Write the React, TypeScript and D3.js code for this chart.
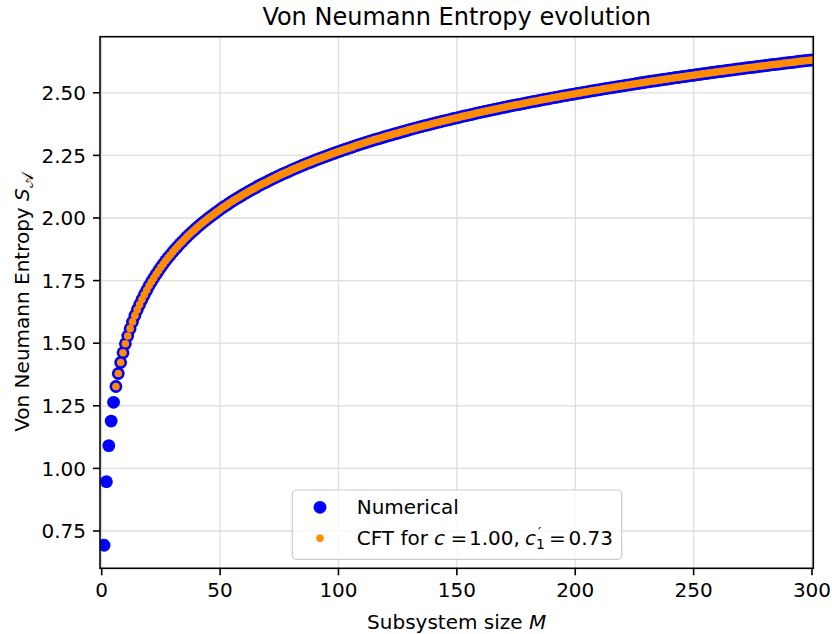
import React from "react";
import * as d3 from "d3";

// Numerical entanglement entropy S_A for subsystem sizes M = 1..300
const numericalStartM = 1;
const numericalEntropy = [
  0.693, 0.947, 1.091, 1.189, 1.264, 1.327, 1.379, 1.423, 1.462, 1.498,
  1.529, 1.558, 1.585, 1.610, 1.633, 1.654, 1.674, 1.693, 1.711, 1.729,
  1.745, 1.760, 1.775, 1.789, 1.803, 1.816, 1.829, 1.841, 1.852, 1.864,
  1.875, 1.885, 1.896, 1.905, 1.915, 1.925, 1.934, 1.943, 1.951, 1.960,
  1.968, 1.976, 1.984, 1.991, 1.999, 2.006, 2.013, 2.020, 2.027, 2.034,
  2.041, 2.047, 2.053, 2.060, 2.066, 2.072, 2.078, 2.083, 2.089, 2.095,
  2.100, 2.106, 2.111, 2.116, 2.121, 2.127, 2.132, 2.137, 2.141, 2.146,
  2.151, 2.156, 2.160, 2.165, 2.169, 2.174, 2.178, 2.182, 2.186, 2.191,
  2.195, 2.199, 2.203, 2.207, 2.211, 2.215, 2.219, 2.222, 2.226, 2.230,
  2.234, 2.237, 2.241, 2.244, 2.248, 2.251, 2.255, 2.258, 2.262, 2.265,
  2.268, 2.272, 2.275, 2.278, 2.281, 2.284, 2.288, 2.291, 2.294, 2.297,
  2.300, 2.303, 2.306, 2.309, 2.312, 2.315, 2.317, 2.320, 2.323, 2.326,
  2.329, 2.331, 2.334, 2.337, 2.339, 2.342, 2.345, 2.347, 2.350, 2.353,
  2.355, 2.358, 2.360, 2.363, 2.365, 2.368, 2.370, 2.372, 2.375, 2.377,
  2.380, 2.382, 2.384, 2.387, 2.389, 2.391, 2.393, 2.396, 2.398, 2.400,
  2.402, 2.405, 2.407, 2.409, 2.411, 2.413, 2.415, 2.418, 2.420, 2.422,
  2.424, 2.426, 2.428, 2.430, 2.432, 2.434, 2.436, 2.438, 2.440, 2.442,
  2.444, 2.446, 2.448, 2.450, 2.452, 2.453, 2.455, 2.457, 2.459, 2.461,
  2.463, 2.465, 2.466, 2.468, 2.470, 2.472, 2.474, 2.475, 2.477, 2.479,
  2.481, 2.482, 2.484, 2.486, 2.488, 2.489, 2.491, 2.493, 2.494, 2.496,
  2.498, 2.499, 2.501, 2.503, 2.504, 2.506, 2.508, 2.509, 2.511, 2.512,
  2.514, 2.516, 2.517, 2.519, 2.520, 2.522, 2.523, 2.525, 2.526, 2.528,
  2.529, 2.531, 2.532, 2.534, 2.535, 2.537, 2.538, 2.540, 2.541, 2.543,
  2.544, 2.546, 2.547, 2.548, 2.550, 2.551, 2.553, 2.554, 2.555, 2.557,
  2.558, 2.560, 2.561, 2.562, 2.564, 2.565, 2.566, 2.568, 2.569, 2.570,
  2.572, 2.573, 2.574, 2.576, 2.577, 2.578, 2.580, 2.581, 2.582, 2.584,
  2.585, 2.586, 2.587, 2.589, 2.590, 2.591, 2.592, 2.594, 2.595, 2.596,
  2.597, 2.599, 2.600, 2.601, 2.602, 2.603, 2.605, 2.606, 2.607, 2.608,
  2.609, 2.611, 2.612, 2.613, 2.614, 2.615, 2.616, 2.618, 2.619, 2.620,
  2.621, 2.622, 2.623, 2.625, 2.626, 2.627, 2.628, 2.629, 2.630, 2.631,
];

// CFT prediction for M = 6..300
const cftStartM = 6;
const cftEntropy = [
  1.327, 1.379, 1.423, 1.462, 1.498,
  1.529, 1.558, 1.585, 1.610, 1.633, 1.654, 1.674, 1.693, 1.711, 1.729,
  1.745, 1.760, 1.775, 1.789, 1.803, 1.816, 1.829, 1.841, 1.852, 1.864,
  1.875, 1.885, 1.896, 1.905, 1.915, 1.925, 1.934, 1.943, 1.951, 1.960,
  1.968, 1.976, 1.984, 1.991, 1.999, 2.006, 2.013, 2.020, 2.027, 2.034,
  2.041, 2.047, 2.053, 2.060, 2.066, 2.072, 2.078, 2.083, 2.089, 2.095,
  2.100, 2.106, 2.111, 2.116, 2.121, 2.127, 2.132, 2.137, 2.141, 2.146,
  2.151, 2.156, 2.160, 2.165, 2.169, 2.174, 2.178, 2.182, 2.186, 2.191,
  2.195, 2.199, 2.203, 2.207, 2.211, 2.215, 2.219, 2.222, 2.226, 2.230,
  2.234, 2.237, 2.241, 2.244, 2.248, 2.251, 2.255, 2.258, 2.262, 2.265,
  2.268, 2.272, 2.275, 2.278, 2.281, 2.284, 2.288, 2.291, 2.294, 2.297,
  2.300, 2.303, 2.306, 2.309, 2.312, 2.315, 2.317, 2.320, 2.323, 2.326,
  2.329, 2.331, 2.334, 2.337, 2.339, 2.342, 2.345, 2.347, 2.350, 2.353,
  2.355, 2.358, 2.360, 2.363, 2.365, 2.368, 2.370, 2.372, 2.375, 2.377,
  2.380, 2.382, 2.384, 2.387, 2.389, 2.391, 2.393, 2.396, 2.398, 2.400,
  2.402, 2.405, 2.407, 2.409, 2.411, 2.413, 2.415, 2.418, 2.420, 2.422,
  2.424, 2.426, 2.428, 2.430, 2.432, 2.434, 2.436, 2.438, 2.440, 2.442,
  2.444, 2.446, 2.448, 2.450, 2.452, 2.453, 2.455, 2.457, 2.459, 2.461,
  2.463, 2.465, 2.466, 2.468, 2.470, 2.472, 2.474, 2.475, 2.477, 2.479,
  2.481, 2.482, 2.484, 2.486, 2.488, 2.489, 2.491, 2.493, 2.494, 2.496,
  2.498, 2.499, 2.501, 2.503, 2.504, 2.506, 2.508, 2.509, 2.511, 2.512,
  2.514, 2.516, 2.517, 2.519, 2.520, 2.522, 2.523, 2.525, 2.526, 2.528,
  2.529, 2.531, 2.532, 2.534, 2.535, 2.537, 2.538, 2.540, 2.541, 2.543,
  2.544, 2.546, 2.547, 2.548, 2.550, 2.551, 2.553, 2.554, 2.555, 2.557,
  2.558, 2.560, 2.561, 2.562, 2.564, 2.565, 2.566, 2.568, 2.569, 2.570,
  2.572, 2.573, 2.574, 2.576, 2.577, 2.578, 2.580, 2.581, 2.582, 2.584,
  2.585, 2.586, 2.587, 2.589, 2.590, 2.591, 2.592, 2.594, 2.595, 2.596,
  2.597, 2.599, 2.600, 2.601, 2.602, 2.603, 2.605, 2.606, 2.607, 2.608,
  2.609, 2.611, 2.612, 2.613, 2.614, 2.615, 2.616, 2.618, 2.619, 2.620,
  2.621, 2.622, 2.623, 2.625, 2.626, 2.627, 2.628, 2.629, 2.630, 2.631,
];

const xTicks = [0, 50, 100, 150, 200, 250, 300];
const yTicks = [0.75, 1.0, 1.25, 1.5, 1.75, 2.0, 2.25, 2.5];
const xDomain = [-0.72, 300.55];
const yDomain = [0.601, 2.724];

const FONT = "DejaVu Sans, Verdana, sans-serif";

export default function App() {
  const W = 832;
  const H = 634;
  const left = 100;
  const right = 813.3;
  const top = 36.7;
  const bottom = 568.3;

  const x = d3.scaleLinear().domain(xDomain).range([left, right]);
  const y = d3.scaleLinear().domain(yDomain).range([bottom, top]);
  const fmtY = d3.format(".2f");

  const blue = "#0000ff";
  const orange = "#ff8c00";
  const fs = 20;
  const tickLen = 7;
  const lw = 1.6;

  return (
    <svg
      width={W}
      height={H}
      viewBox={`0 0 ${W} ${H}`}
      style={{ position: "absolute", left: 0, top: 0, display: "block", background: "#fff" }}
      fontFamily={FONT}
    >
      <defs>
        <clipPath id="plotClip">
          <rect x={left} y={top} width={right - left} height={bottom - top} />
        </clipPath>
      </defs>
      <rect x={0} y={0} width={W} height={H} fill="#fff" />

      {/* grid */}
      <g stroke="#dddddd" strokeWidth={1.3}>
        {xTicks.map((t) => (
          <line key={"gx" + t} x1={x(t)} x2={x(t)} y1={top} y2={bottom} />
        ))}
        {yTicks.map((t) => (
          <line key={"gy" + t} x1={left} x2={right} y1={y(t)} y2={y(t)} />
        ))}
      </g>

      {/* data */}
      <g clipPath="url(#plotClip)">
        {numericalEntropy.map((v, i) => (
          <circle key={"n" + i} cx={x(numericalStartM + i)} cy={y(v)} r={6.4} fill={blue} />
        ))}
        {cftEntropy.map((v, i) => (
          <circle key={"c" + i} cx={x(cftStartM + i)} cy={y(v)} r={3.8} fill={orange} />
        ))}
      </g>

      {/* spines */}
      <rect x={left} y={top} width={right - left} height={bottom - top} fill="none" stroke="#000" strokeWidth={lw} />

      {/* x ticks */}
      <g>
        {xTicks.map((t) => (
          <g key={"xt" + t}>
            <line x1={x(t)} x2={x(t)} y1={bottom} y2={bottom + tickLen} stroke="#000" strokeWidth={lw} />
            <text x={x(t)} y={596.5} textAnchor="middle" fontSize={fs} fill="#000">
              {t}
            </text>
          </g>
        ))}
      </g>

      {/* y ticks */}
      <g>
        {yTicks.map((t) => (
          <g key={"yt" + t}>
            <line x1={left - tickLen} x2={left} y1={y(t)} y2={y(t)} stroke="#000" strokeWidth={lw} />
            <text x={left - 14} y={y(t)} dy="0.36em" textAnchor="end" fontSize={fs} fill="#000">
              {fmtY(t)}
            </text>
          </g>
        ))}
      </g>

      {/* title */}
      <text x={(left + right) / 2} y={25} textAnchor="middle" fontSize={24} fill="#000">
        Von Neumann Entropy evolution
      </text>

      {/* x label */}
      <text x={(left + right) / 2} y={628.5} textAnchor="middle" fontSize={fs} fill="#000">
        Subsystem size <tspan fontStyle="italic">M</tspan>
      </text>

      {/* y label */}
      <text
        transform={`translate(29, ${(top + bottom) / 2}) rotate(-90)`}
        textAnchor="middle"
        fontSize={fs}
        fill="#000"
      >
        Von Neumann Entropy <tspan fontStyle="italic">S</tspan>
        <tspan fontSize={16} dy={4}>𝒜</tspan>
      </text>

      {/* legend */}
      <g>
        <rect x={292.3} y={490} width={329.4} height={69.3} rx={4} fill="#fff" fillOpacity={0.8} stroke="#cccccc" strokeWidth={1.2} />
        <circle cx={320} cy={507.3} r={6.4} fill={blue} />
        <text x={356.7} y={514.2} fontSize={fs} fill="#000">Numerical</text>
        <circle cx={320} cy={538.3} r={3.8} fill={orange} />
        <text y={545.4} fontSize={fs} fill="#000">
          <tspan x={356.7}>CFT for</tspan>
          <tspan x={434} fontStyle="italic">c</tspan>
          <tspan x={450.5}>=</tspan>
          <tspan x={469}>1.00,</tspan>
          <tspan x={525} fontStyle="italic">c</tspan>
          <tspan x={538} y={537} fontSize={14}>′</tspan>
          <tspan x={536} y={549} fontSize={14}>1</tspan>
          <tspan x={549} y={545.4}>=</tspan>
          <tspan x={568.5}>0.73</tspan>
        </text>
      </g>
    </svg>
  );
}
